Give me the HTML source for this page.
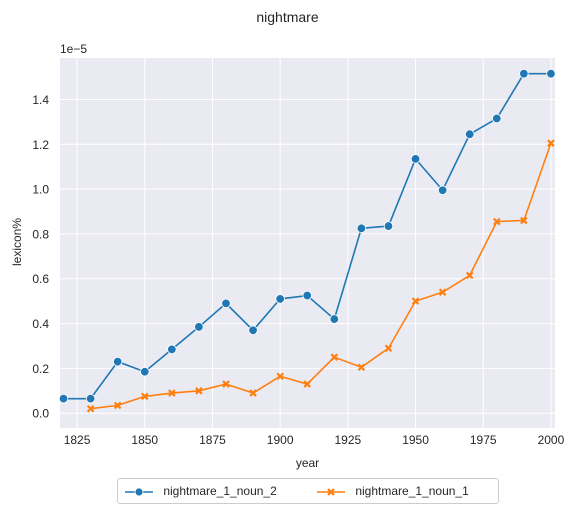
<!DOCTYPE html>
<html><head><meta charset="utf-8"><style>
body{margin:0;background:#fff;font-family:"Liberation Sans",Arial,sans-serif;}
</style></head><body>
<svg id="c" width="575" height="515" xmlns="http://www.w3.org/2000/svg"></svg>
<script>
const years=[1820,1830,1840,1850,1860,1870,1880,1890,1900,1910,1920,1930,1940,1950,1960,1970,1980,1990,2000];
const noun2=[0.065,0.065,0.23,0.185,0.285,0.385,0.49,0.37,0.51,0.525,0.42,0.825,0.835,1.135,0.995,1.245,1.315,1.515,1.515];
const years1=[1830,1840,1850,1860,1870,1880,1890,1900,1910,1920,1930,1940,1950,1960,1970,1980,1990,2000];
const noun1=[0.02,0.035,0.075,0.09,0.1,0.13,0.09,0.165,0.13,0.25,0.205,0.29,0.5,0.54,0.615,0.855,0.86,1.205];
const xTicks=[1825,1850,1875,1900,1925,1950,1975,2000];
const yTicks=[0,0.2,0.4,0.6,0.8,1.0,1.2,1.4];
const L=60,R=555,T=58,B=428,x0=1818.7,x1=2001.5,y0=-0.066,y1=1.585;
const sx=v=>L+(v-x0)/(x1-x0)*(R-L);
const sy=v=>B-(v-y0)/(y1-y0)*(B-T);
const svg=document.getElementById('c');
const NS='http://www.w3.org/2000/svg';
function mk(t,a,p){const e=document.createElementNS(NS,t);for(const k in a)e.setAttribute(k,a[k]);(p||svg).appendChild(e);return e;}
let bg=mk('rect',{x:L,y:T,width:R-L,height:B-T,fill:'#eaeaf2'});


xTicks.forEach(v=>{
 let g=mk('line',{x1:sx(v),x2:sx(v),y1:T,y2:B,stroke:'#fff','stroke-width':1});
 
 
 let t=mk('text',{x:sx(v),y:B+16,'text-anchor':'middle','font-size':12,fill:'#262626'});
 t.textContent=v;
 
 
});
yTicks.forEach(v=>{
 let g=mk('line',{x1:L,x2:R,y1:sy(v),y2:sy(v),stroke:'#fff','stroke-width':1});
 
 
 let t=mk('text',{x:L-11,y:sy(v)+4.5,'text-anchor':'end','font-size':12,fill:'#262626'});
 t.textContent=v.toFixed(1);
 
 
});
function series(xs,ys,color,marker,name){
 let p=mk('polyline',{points:xs.map((x,i)=>sx(x)+','+sy(ys[i])).join(' '),fill:'none',stroke:color,'stroke-width':1.6});
 
 
 xs.forEach((x,i)=>{
  let m;
  if(marker==='o'){m=mk('circle',{cx:sx(x),cy:sy(ys[i]),r:4.3,fill:color,stroke:'#fff','stroke-width':0.8});}
  else{const cx=sx(x),cy=sy(ys[i]),d=3;m=mk('path',{d:`M${cx-d},${cy-d}L${cx+d},${cy+d}M${cx-d},${cy+d}L${cx+d},${cy-d}`,stroke:color,'stroke-width':2.2,fill:'none'});}
  
  
 });
}
series(years,noun2,'#1f77b4','o','nightmare-1-noun-2');
series(years1,noun1,'#ff7f0e','x','nightmare-1-noun-1');
</script>
<div style="position:absolute;left:0;width:575px;text-align:center;font-size:14px;color:#262626;top:9px">nightmare</div>
<div style="position:absolute;left:60px;top:42px;font-size:12px;color:#262626">1e−5</div>
<div style="position:absolute;left:-13px;top:235px;font-size:12px;color:#262626;transform:rotate(-90deg);width:60px;text-align:center">lexicon%</div>
<div style="position:absolute;left:0;width:615px;text-align:center;top:456px;font-size:12px;color:#262626">year</div>
<div style="position:absolute;left:117px;top:478px;width:382px;height:26px;border:1px solid #ccc;border-radius:3px;box-sizing:border-box;font-size:12px;color:#262626">
 <div style="position:absolute;left:6px;top:5px;white-space:nowrap">
  <svg width="30" height="12" style="vertical-align:middle"><line x1="1" y1="6" x2="29" y2="6" stroke="#1f77b4" stroke-width="1.6"/><circle cx="15" cy="6" r="4" fill="#1f77b4" stroke="#fff" stroke-width="0.8"/></svg>
  <span style="margin-left:6px">nightmare_1_noun_2</span></div>
 <div style="position:absolute;left:198px;top:5px;white-space:nowrap">
  <svg width="30" height="12" style="vertical-align:middle"><line x1="1" y1="6" x2="29" y2="6" stroke="#ff7f0e" stroke-width="1.6"/><path d="M12,3L18,9M12,9L18,3" stroke="#ff7f0e" stroke-width="2.2"/></svg>
  <span style="margin-left:6px">nightmare_1_noun_1</span></div>
</div>
</body></html>
